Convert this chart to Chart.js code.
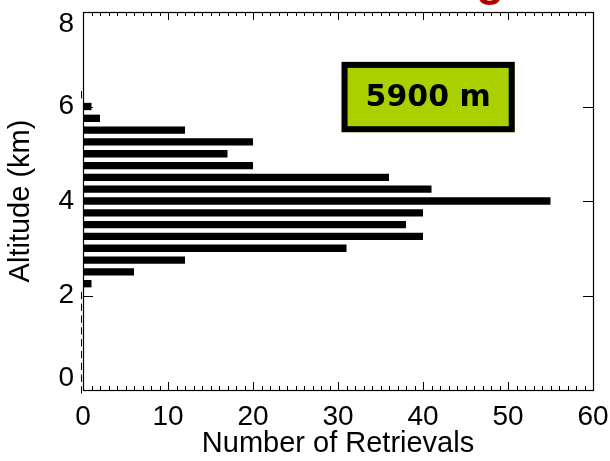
<!DOCTYPE html>
<html><head><meta charset="utf-8">
<script src="https://cdn.jsdelivr.net/npm/chart.js@4/dist/chart.umd.min.js"></script>
<style>html,body{margin:0;padding:0;background:#fff}#wrap{width:610px;height:461px;position:relative}</style>
</head><body><div id="wrap"><canvas id="c"></canvas></div>
<script>
// ---- data ----
const altitudes = [0,0.25,0.5,0.75,1,1.25,1.5,1.75,2,2.25,2.5,2.75,3,3.25,3.5,3.75,4,4.25,4.5,4.75,5,5.25,5.5,5.75,6,6.25];
const retrievals = [0,0,0,0,0,0,0,0,0,1,6,12,31,40,38,40,55,41,36,20,17,20,12,2,1,0];
const xTicks = [0,10,20,30,40,50,60];
const yTicks = [0,2,4,6,8];
const xTitle = 'Number of Retrievals';
const yTitle = 'Altitude (km)';
const boxLabel = '5900 m';
const titleFragment = 'g';

const AX_FONT = 'Liberation Sans, Arial, sans-serif';

const framePlugin = {
  id: 'frame',
  afterDatasetsDraw(chart) {
    const ctx = chart.ctx, a = chart.chartArea;
    const xs = chart.scales.x, ys = chart.scales.y;
    ctx.save();
    // zero-count bars drawn as thin marks left of axis
    const meta = chart.getDatasetMeta(0);
    ctx.strokeStyle = '#000'; ctx.lineWidth = 1;
    meta.data.forEach((el, i) => {
      if (retrievals[i] === 0) {
        const h = el.height;
        ctx.beginPath();
        ctx.moveTo(Math.round(a.left) - 1.5, el.y - h / 2);
        ctx.lineTo(Math.round(a.left) - 1.5, el.y + h / 2);
        ctx.stroke();
      }
    });
    // frame
    ctx.lineWidth = 1.2;
    ctx.strokeStyle = '#000';
    ctx.strokeRect(Math.round(a.left) + 0.5, Math.round(a.top) + 0.5, Math.round(a.right - a.left), Math.round(a.bottom - a.top));
    // x ticks (inward, top & bottom)
    ctx.lineWidth = 1;
    const xmin = xTicks[0], xmax = xTicks[xTicks.length - 1];
    for (let v = xmin; v <= xmax; v++) {
      const px = Math.round(xs.getPixelForValue(v)) + 0.5;
      const len = (v % 10 === 0) ? 8 : 4;
      ctx.beginPath();
      ctx.moveTo(px, a.bottom); ctx.lineTo(px, a.bottom - len);
      ctx.moveTo(px, a.top); ctx.lineTo(px, a.top + len);
      ctx.stroke();
    }
    // y major ticks (inward, left & right)
    yTicks.forEach(v => {
      const py = Math.round(ys.getPixelForValue(v)) + 0.5;
      ctx.beginPath();
      ctx.moveTo(a.left, py); ctx.lineTo(a.left + 10, py);
      ctx.moveTo(a.right, py); ctx.lineTo(a.right - 10, py);
      ctx.stroke();
    });
    // annotation box
    const w = a.right - a.left, hh = a.bottom - a.top;
    const bx0 = a.left + 0.507 * w, bx1 = a.left + 0.8465 * w;
    const by0 = a.top + 0.132 * hh, by1 = a.top + 0.318 * hh;
    ctx.fillStyle = '#aad000';
    ctx.fillRect(bx0, by0, bx1 - bx0, by1 - by0);
    ctx.lineWidth = 6;
    ctx.strokeStyle = '#000';
    ctx.strokeRect(bx0 + 3, by0 + 3, bx1 - bx0 - 6, by1 - by0 - 6);
    ctx.fillStyle = '#000';
    ctx.font = 'bold 30px "DejaVu Sans", sans-serif';
    ctx.textAlign = 'center'; ctx.textBaseline = 'middle';
    ctx.fillText(boxLabel, (bx0 + bx1) / 2, (by0 + by1) / 2 + 1);
    // cut-off title fragment at top
    ctx.fillStyle = '#b00000';
    ctx.font = 'bold 46px "Liberation Sans", Arial, sans-serif';
    ctx.textAlign = 'center'; ctx.textBaseline = 'alphabetic';
    ctx.fillText(titleFragment, 490, -5);
    ctx.restore();
  }
};

new Chart(document.getElementById('c'), {
  type: 'bar',
  data: {
    datasets: [{
      data: altitudes.map((a, i) => ({ x: retrievals[i], y: a })),
      backgroundColor: '#000',
      borderWidth: 0,
      barPercentage: 0.62,
      categoryPercentage: 1
    }]
  },
  options: {
    indexAxis: 'y',
    animation: false,
    responsive: true,
    maintainAspectRatio: false,
    layout: { padding: { top: 12, right: 17, left: 0, bottom: 0 } },
    plugins: { legend: { display: false }, tooltip: { enabled: false } },
    scales: {
      x: {
        type: 'linear', position: 'bottom', min: xTicks[0], max: xTicks[xTicks.length - 1],
        afterBuildTicks: s => { s.ticks = xTicks.map(v => ({ value: v })); },
        afterFit: s => { s.height = 71; s.paddingRight = 0; s.paddingLeft = 0; },
        grid: { display: false, drawTicks: false },
        border: { display: false },
        ticks: { color: '#000', padding: 10, maxRotation: 0, font: { family: AX_FONT, size: 28 } },
        title: { display: true, text: xTitle, color: '#000', padding: { top: 0, bottom: 0 }, font: { family: AX_FONT, size: 29 } }
      },
      y: {
        type: 'linear', position: 'left', min: yTicks[0], max: yTicks[yTicks.length - 1],
        offset: false,
        afterBuildTicks: s => { s.ticks = yTicks.map(v => ({ value: v })); },
        afterFit: s => { s.width = 83; s.paddingTop = 0; s.paddingBottom = 0; },
        grid: { display: false, drawTicks: false, offset: false },
        border: { display: false },
        ticks: {
          color: '#000', padding: 9,
          font: { family: AX_FONT, size: 28, lineHeight: '24px' },
          callback: (v) => {
            if (v === yTicks[yTicks.length - 1]) return ['', String(v)];
            if (v === yTicks[0]) return [String(v), ''];
            return String(v);
          }
        },
        title: { display: true, text: yTitle, color: '#000', padding: { top: 4, bottom: 0 }, font: { family: AX_FONT, size: 29 } }
      }
    }
  },
  plugins: [framePlugin]
});
</script>
</body></html>
